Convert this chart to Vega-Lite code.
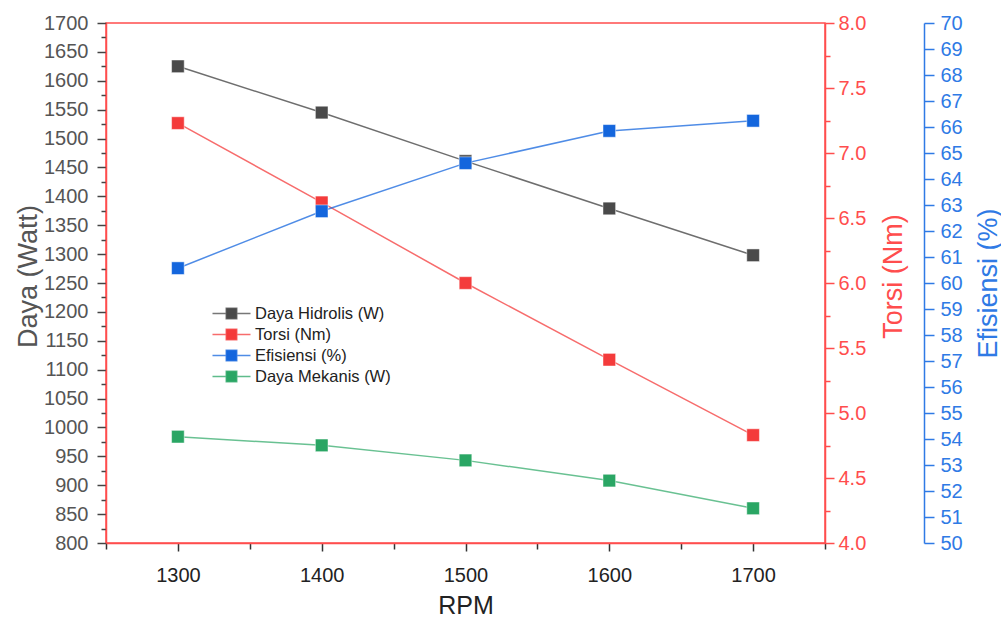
{
  "$schema": "https://vega.github.io/schema/vega-lite/v6.json",
  "width": 719,
  "height": 520,
  "autosize": {"type": "none"},
  "padding": {"left": 106, "top": 23, "right": 176, "bottom": 77},
  "background": "white",
  "config": {
    "font": "Liberation Sans",
    "view": {"stroke": "#ff4d4d", "strokeWidth": 1.5},
    "axis": {"grid": false, "labelFont": "Liberation Sans", "titleFont": "Liberation Sans", "titleFontWeight": "normal", "labelOverlap": false, "labelBound": false, "labelFlush": false}
  },
  "data": {
    "values": [
      {"rpm": 1300, "series": "Daya Hidrolis (W)", "value": 1625},
      {"rpm": 1400, "series": "Daya Hidrolis (W)", "value": 1545},
      {"rpm": 1500, "series": "Daya Hidrolis (W)", "value": 1461},
      {"rpm": 1600, "series": "Daya Hidrolis (W)", "value": 1379},
      {"rpm": 1700, "series": "Daya Hidrolis (W)", "value": 1298},
      {"rpm": 1300, "series": "Torsi (Nm)", "value": 7.23},
      {"rpm": 1400, "series": "Torsi (Nm)", "value": 6.62},
      {"rpm": 1500, "series": "Torsi (Nm)", "value": 6.0},
      {"rpm": 1600, "series": "Torsi (Nm)", "value": 5.41},
      {"rpm": 1700, "series": "Torsi (Nm)", "value": 4.83},
      {"rpm": 1300, "series": "Efisiensi (%)", "value": 60.57},
      {"rpm": 1400, "series": "Efisiensi (%)", "value": 62.76},
      {"rpm": 1500, "series": "Efisiensi (%)", "value": 64.61},
      {"rpm": 1600, "series": "Efisiensi (%)", "value": 65.85},
      {"rpm": 1700, "series": "Efisiensi (%)", "value": 66.24},
      {"rpm": 1300, "series": "Daya Mekanis (W)", "value": 984},
      {"rpm": 1400, "series": "Daya Mekanis (W)", "value": 969},
      {"rpm": 1500, "series": "Daya Mekanis (W)", "value": 943},
      {"rpm": 1600, "series": "Daya Mekanis (W)", "value": 908},
      {"rpm": 1700, "series": "Daya Mekanis (W)", "value": 860}
    ]
  },
  "encoding": {
    "x": {
      "field": "rpm", "type": "quantitative",
      "scale": {"domain": [1250, 1750], "nice": false, "zero": false},
      "axis": {
        "title": "RPM", "titleFontSize": 25, "titleColor": "#222", "titlePadding": 8,
        "values": [1250, 1300, 1350, 1400, 1450, 1500, 1550, 1600, 1650, 1700, 1750],
        "format": "d",
        "labelExpr": "(datum.value % 100 === 0 && datum.value >= 1300 && datum.value <= 1700) ? datum.label : ''",
        "labelFontSize": 20, "labelColor": "#222", "labelPadding": 14,
        "domainColor": "#ff4d4d", "domainWidth": 1.5,
        "tickColor": "#333", "tickWidth": 1.5,
        "tickSize": {"condition": {"test": "datum.value % 100 === 0", "value": 8}, "value": 6}
      }
    },
    "color": {
      "field": "series", "type": "nominal",
      "scale": {
        "domain": ["Daya Hidrolis (W)", "Torsi (Nm)", "Efisiensi (%)", "Daya Mekanis (W)"],
        "range": ["#4a4a4a", "#f43b3b", "#1466dd", "#2aa664"]
      },
      "legend": {
        "orient": "none", "legendX": 114, "legendY": 279, "title": null, "padding": 0,
        "symbolType": "M-1.81,0H1.81M-0.5,-0.5H0.5V0.5H-0.5Z",
        "symbolSize": 441, "symbolStrokeWidth": 1.5, "symbolOpacity": 1,
        "labelFontSize": 16.5, "labelColor": "#222", "labelOffset": 12, "rowPadding": 1,
        "labelFont": "Liberation Sans",
        "symbolFillColor": "#888",
        "encode": {"symbols": {"update": {"fill": {"scale": "color", "field": "value"}, "stroke": {"scale": "color", "field": "value"}, "strokeOpacity": {"value": 0.75}}}}
      }
    }
  },
  "layer": [
    {
      "transform": [{"filter": "datum.series === 'Daya Hidrolis (W)'"}],
      "encoding": {
        "y": {
          "field": "value", "type": "quantitative",
          "scale": {"domain": [800, 1700], "nice": false, "zero": false},
          "axis": {
            "orient": "left", "title": "Daya (Watt)", "titleFontSize": 27, "titleColor": "#555",
            "titleAngle": 270, "titleBaseline": "middle", "titleX": -78, "titleY": 253, "titleAlign": "center",
            "values": [800, 825, 850, 875, 900, 925, 950, 975, 1000, 1025, 1050, 1075, 1100, 1125, 1150, 1175, 1200, 1225, 1250, 1275, 1300, 1325, 1350, 1375, 1400, 1425, 1450, 1475, 1500, 1525, 1550, 1575, 1600, 1625, 1650, 1675, 1700],
            "format": "d",
            "labelExpr": "datum.value % 50 === 0 ? datum.label : ''",
            "labelFontSize": 20, "labelColor": "#555", "labelPadding": 9,
            "domainColor": "#ff4d4d", "domainWidth": 1.5,
            "tickColor": "#444", "tickWidth": 1.5,
            "tickSize": {"condition": {"test": "datum.value % 50 === 0", "value": 9}, "value": 5}
          }
        }
      },
      "layer": [
        {"mark": {"type": "line", "strokeWidth": 1.5, "opacity": 0.8}},
        {"mark": {"type": "point", "shape": "square", "filled": true, "size": 160, "opacity": 1, "stroke": "white", "strokeWidth": 0.8, "strokeOpacity": 0.6}}
      ]
    },
    {
      "transform": [{"filter": "datum.series === 'Daya Mekanis (W)'"}],
      "encoding": {
        "y": {
          "field": "value", "type": "quantitative",
          "scale": {"domain": [800, 1700], "nice": false, "zero": false},
          "axis": null
        }
      },
      "layer": [
        {"mark": {"type": "line", "strokeWidth": 1.5, "opacity": 0.7}},
        {"mark": {"type": "point", "shape": "square", "filled": true, "size": 160, "opacity": 1, "stroke": "white", "strokeWidth": 0.8, "strokeOpacity": 0.6}}
      ]
    },
    {
      "transform": [{"filter": "datum.series === 'Torsi (Nm)'"}],
      "encoding": {
        "y": {
          "field": "value", "type": "quantitative",
          "scale": {"domain": [4, 8], "nice": false, "zero": false},
          "axis": {
            "orient": "right", "title": "Torsi (Nm)", "titleFontSize": 27, "titleColor": "#ff4d4d",
            "titleAngle": 270, "titleBaseline": "middle", "titleX": 68, "titleY": 253, "titleAlign": "center",
            "values": [4, 4.25, 4.5, 4.75, 5, 5.25, 5.5, 5.75, 6, 6.25, 6.5, 6.75, 7, 7.25, 7.5, 7.75, 8],
            "format": ".1f",
            "labelExpr": "datum.value % 0.5 === 0 ? datum.label : ''",
            "labelFontSize": 20, "labelColor": "#ff4d4d", "labelPadding": 4,
            "domainColor": "#ff4d4d", "domainWidth": 1.5,
            "tickColor": "#ff4d4d", "tickWidth": 1.5,
            "tickSize": {"condition": {"test": "datum.value % 0.5 === 0", "value": 9}, "value": 5}
          }
        }
      },
      "layer": [
        {"mark": {"type": "line", "strokeWidth": 1.5, "opacity": 0.75}},
        {"mark": {"type": "point", "shape": "square", "filled": true, "size": 160, "opacity": 1, "stroke": "white", "strokeWidth": 0.8, "strokeOpacity": 0.6}}
      ]
    },
    {
      "transform": [{"filter": "datum.series === 'Efisiensi (%)'"}],
      "encoding": {
        "y": {
          "field": "value", "type": "quantitative",
          "scale": {"domain": [50, 70], "nice": false, "zero": false},
          "axis": {
            "orient": "right", "offset": 99, "title": "Efisiensi (%)", "titleFontSize": 27, "titleColor": "#2f7ae5",
            "titleAngle": 270, "titleBaseline": "middle", "titleX": 64, "titleY": 260, "titleAlign": "center",
            "values": [50, 50.5, 51, 51.5, 52, 52.5, 53, 53.5, 54, 54.5, 55, 55.5, 56, 56.5, 57, 57.5, 58, 58.5, 59, 59.5, 60, 60.5, 61, 61.5, 62, 62.5, 63, 63.5, 64, 64.5, 65, 65.5, 66, 66.5, 67, 67.5, 68, 68.5, 69, 69.5, 70],
            "format": "d",
            "labelExpr": "datum.value % 1 === 0 ? datum.label : ''",
            "labelFontSize": 20, "labelColor": "#2f7ae5", "labelPadding": 6,
            "domainColor": "#2f7ae5", "domainWidth": 1.5,
            "tickColor": "#2f7ae5", "tickWidth": 1.5,
            "tickSize": {"condition": {"test": "datum.value % 1 === 0", "value": 10}, "value": 5}
          }
        }
      },
      "layer": [
        {"mark": {"type": "line", "strokeWidth": 1.5, "opacity": 0.75}},
        {"mark": {"type": "point", "shape": "square", "filled": true, "size": 160, "opacity": 1, "stroke": "white", "strokeWidth": 0.8, "strokeOpacity": 0.6}}
      ]
    }
  ],
  "resolve": {"scale": {"y": "independent"}, "axis": {"y": "independent"}}
}
